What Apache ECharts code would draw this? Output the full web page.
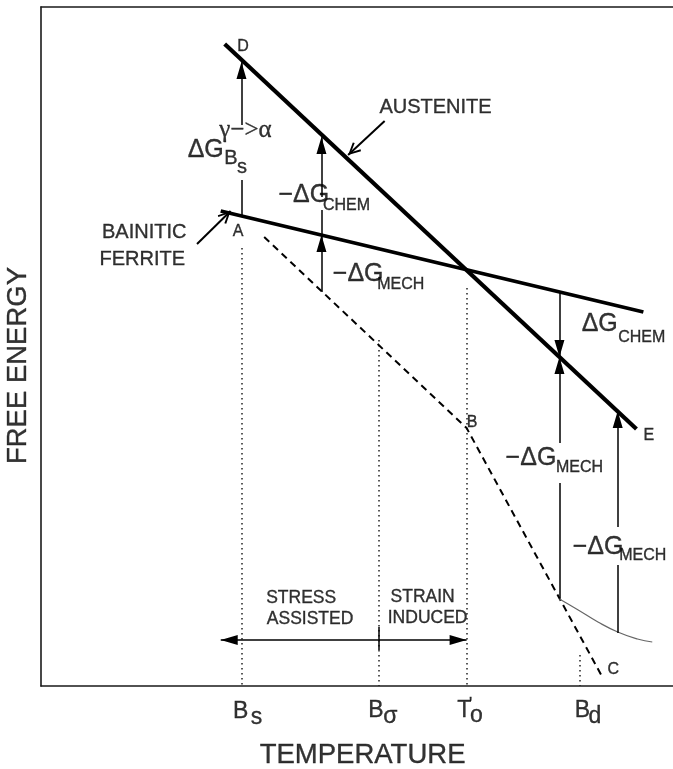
<!DOCTYPE html>
<html>
<head>
<meta charset="utf-8">
<script src="https://cdn.jsdelivr.net/npm/echarts@6/dist/echarts.min.js"></script>
<style>html,body{margin:0;padding:0;background:#fff}#c{width:673px;height:769px}</style>
</head>
<body>
<div id="c"></div>
<script>
// ---- schematic values (temperature units on x, free-energy units on y) ----
const austenite = [[186, 642], [603, 257]];
const ferrite = [[182, 475], [610, 374]];
const stressPath = [[226, 449], [431, 258], [569, 8]];
const mechCurve = [[525, 87], [544, 76], [564, 64], [584, 54], [604, 47], [619, 44]];
const tempMarks = [[203, 438], [342, 346], [431, 398], [546, 31]]; // [T, top of dotted guide]
const arrowsUp = [[[203, 561], [203, 624]], [[284, 489], [284, 549]], [[284, 394], [284, 451]],
                  [[525, 394], [525, 329]], [[525, 243], [525, 329]], [[584, 159], [584, 275]]];
const plainSegs = [[[203, 470], [203, 506]], [[284, 451], [284, 476]], [[525, 203], [525, 88]],
                   [[584, 121], [584, 53]], [[342, 59], [342, 36]]];
const rangeArrows = [[[342, 46], [182, 46]], [[342, 46], [431, 46]]];
const pointers = [[[348, 565], [311, 531]], [[158, 442], [192, 475]]];

const textMain = [[400, 578, 'AUSTENITE'], [105, 453, 'BAINITIC'], [103, 426, 'FERRITE']];
const textRegion = [[264, 87, 'STRESS'], [273, 66, 'ASSISTED'], [387, 88, 'STRAIN'], [392, 67, 'INDUCED']];
const pointNames = [[205, 639, 'D'], [200, 454, 'A'], [437, 263, 'B'], [580, 16, 'C'], [616, 250, 'E']];
const deltaLabels = [[149, 535, 'ΔG'], [241, 490, '−ΔG'], [296, 411, '−ΔG'], [548, 361, 'ΔG'], [471, 227, '−ΔG'], [539, 138, '−ΔG']];
const deltaSubs = [[286, 480, 'CHEM'], [341, 401, 'MECH'], [585, 348, 'CHEM'], [522, 218, 'MECH'], [586, 130, 'MECH']];
const deltaSubB = [[186, 527, 'B'], [199, 518, 's']];
const deltaSup = [[181, 555, 'γ−>α']];
const tickMain = [[195, -26, 'B'], [332, -25, 'B'], [422, -25, 'T'], [541, -25, 'B']];
const tickSub = [[213, -32, 's'], [347, -31, 'σ'], [435, -30, 'o'], [555, -31, 'd']];
const tickPrime = [[434, -19, "'"]];
const xTitle = [[222, -70, 'TEMPERATURE']];
const yTitle = [[-22, 320, 'FREE ENERGY']];

const SANS = "'Liberation Sans', Arial, Helvetica, sans-serif";
const SERIF = "'Liberation Serif', 'DejaVu Serif', serif";

function textSeries(data, size, family, align, rotate) {
  return {
    type: 'scatter', data: data, symbolSize: 1, clip: false, silent: true, z: 10,
    itemStyle: { color: 'transparent' },
    label: {
      show: true, position: [0, 0], align: align || 'center', verticalAlign: 'middle',
      rotate: rotate || 0, color: '#000', fontSize: size, fontFamily: family,
      textBorderColor: '#000', textBorderWidth: 0.35,
      formatter: p => p.value[2]
    }
  };
}
function segs(list) { return list.map(c => ({ coords: c })); }

// arrowhead shapes whose tip sits at the centre of the symbol box
const tri = 'path://M5,0 L5,0.01 M5,17 L10,34 L0,34 Z';
const open = 'path://M6,0 L6,0.01 M0,25 L6,13 L12,25 L10.3,26 L6,17 L1.7,26 Z';
const frameLine = { show: true, onZero: false, lineStyle: { color: '#1a1a1a', width: 1.6 } };

const option = {
  animation: false,
  grid: { left: 41, top: 7, right: -8, bottom: 83, show: false },
  xAxis: [
    { type: 'value', min: 0, max: 640, position: 'bottom', axisLine: frameLine,
      axisTick: { show: false }, axisLabel: { show: false }, splitLine: { show: false } },
    { type: 'value', min: 0, max: 640, position: 'top', axisLine: frameLine,
      axisTick: { show: false }, axisLabel: { show: false }, splitLine: { show: false } }
  ],
  yAxis: { type: 'value', min: 0, max: 679, position: 'left', axisLine: frameLine,
    axisTick: { show: false }, axisLabel: { show: false }, splitLine: { show: false } },
  series: [
    { type: 'line', data: austenite, symbol: 'none', lineStyle: { color: '#000', width: 4.2 }, z: 5 },
    { type: 'line', data: ferrite, symbol: 'none', lineStyle: { color: '#000', width: 3.8 }, z: 5 },
    { type: 'line', data: stressPath, symbol: 'none', lineStyle: { color: '#000', width: 2, type: [7, 5] }, z: 4 },
    { type: 'line', data: mechCurve, symbol: 'none', smooth: true, lineStyle: { color: '#666', width: 1.2 }, z: 4 },
    { type: 'lines', coordinateSystem: 'cartesian2d', silent: true, z: 3,
      data: tempMarks.map(m => ({ coords: [[m[0], m[1]], [m[0], 0]] })),
      lineStyle: { color: '#222', width: 1.5, type: [1.6, 3.4], opacity: 1 } },
    { type: 'lines', coordinateSystem: 'cartesian2d', silent: true, z: 6,
      data: segs(arrowsUp), symbol: ['none', tri], symbolSize: [[10, 34], [10, 34]],
      lineStyle: { color: '#000', width: 1.5, opacity: 1 } },
    { type: 'lines', coordinateSystem: 'cartesian2d', silent: true, z: 6,
      data: segs(plainSegs), lineStyle: { color: '#000', width: 1.5, opacity: 1 } },
    { type: 'lines', coordinateSystem: 'cartesian2d', silent: true, z: 6,
      data: segs(rangeArrows), symbol: ['none', tri], symbolSize: [[10, 34], [10, 34]],
      lineStyle: { color: '#000', width: 1.5, opacity: 1 } },
    { type: 'lines', coordinateSystem: 'cartesian2d', silent: true, z: 6,
      data: segs(pointers), symbol: ['none', open], symbolSize: [[12, 26], [12, 26]],
      lineStyle: { color: '#000', width: 2, opacity: 1 } },
    textSeries(textMain, 20, SANS),
    textSeries(textRegion, 17.5, SANS),
    textSeries(pointNames, 16, SANS),
    textSeries(deltaLabels, 25, SANS, 'left'),
    textSeries(deltaSubs, 16, SANS, 'left'),
    textSeries(deltaSubB, 20, SANS, 'left'),
    textSeries(deltaSup, 25, SERIF, 'left'),
    textSeries(tickMain, 23, SANS, 'left'),
    textSeries(tickSub, 23, SANS, 'left'),
    textSeries(tickPrime, 17, SANS, 'left'),
    textSeries(xTitle, 27.5, SANS, 'left'),
    textSeries(yTitle, 27.5, SANS, 'center', 90)
  ]
};
const chart = echarts.init(document.getElementById('c'), null, { renderer: 'canvas' });
chart.setOption(option);
</script>
</body>
</html>
